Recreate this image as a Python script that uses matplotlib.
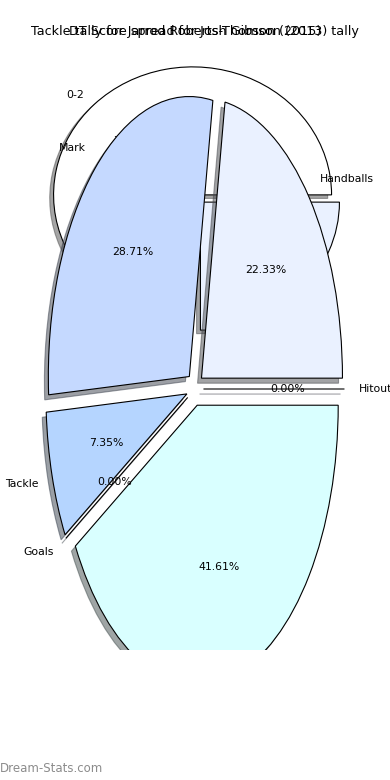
import matplotlib
matplotlib.use("Agg")
import matplotlib.pyplot as plt

# background chart (drawn first, mostly hidden)
bg_title = "DT Score spread for Josh Gibson (2015)"
bg_labels = ["0-2", "3-5"]
bg_values = [75.0, 25.0]
bg_colors = ["#ffffff", "#eaf1ff"]

# foreground chart
fg_title = "Tackle tally for Jarrod Roberts-Thomson (2013) tally"
fg_labels = ["Handballs", "Mark", "Tackle", "Goals", "Kick", "Hitout"]
fg_values = [22.33, 28.71, 7.35, 0.0, 41.61, 0.0]
fg_colors = ["#eaf1ff", "#c5d9ff", "#b5d5ff", "#cfe6ff", "#d9ffff", "#e0e0ff"]

fig = plt.figure(figsize=(3.9, 7.8), dpi=100)
rect = [0.0, 130 / 780, 1.0, (650 - 43) / 780]
ax_bg = fig.add_axes(rect)
ax_fg = fig.add_axes(rect)

wp = {"edgecolor": "black", "linewidth": 0.8}

ax_bg.pie(bg_values, labels=bg_labels, colors=bg_colors, explode=[0.04] * len(bg_values),
          autopct="%.2f%%", shadow=True, wedgeprops=wp, textprops={"fontsize": 7.8})
ax_bg.set_aspect("auto")
ax_bg.set_xlim(-196.5 / 139, (390 - 196.5) / 139)
ax_bg.set_ylim(-(650 - 198.5) / 128, (198.5 - 43) / 128)
ax_bg.set_title(bg_title, fontsize=9.2)

wp_fg = dict(wp, clip_on=True)
wedges, texts, autotexts = ax_fg.pie(fg_values, labels=fg_labels, colors=fg_colors,
                                     explode=[0.06] * len(fg_values), autopct="%.2f%%",
                                     shadow={"ox": -0.02, "oy": -0.013}, wedgeprops=wp_fg,
                                     textprops={"fontsize": 7.8})
for t in texts + autotexts:
    t.set_clip_on(True)
ax_fg.set_aspect("auto")
ax_fg.set_xlim(-195 / 141, 195 / 141)
ax_fg.set_ylim(-(650 - 389) / 280, (389 - 43) / 280)
ax_fg.set_title(fg_title, fontsize=9.2)

fig.text(0.0, 0.006, "Dream-Stats.com", color="#8c8c8c", fontsize=8.5, ha="left", va="bottom")

fig.savefig("out.png", dpi=100)
